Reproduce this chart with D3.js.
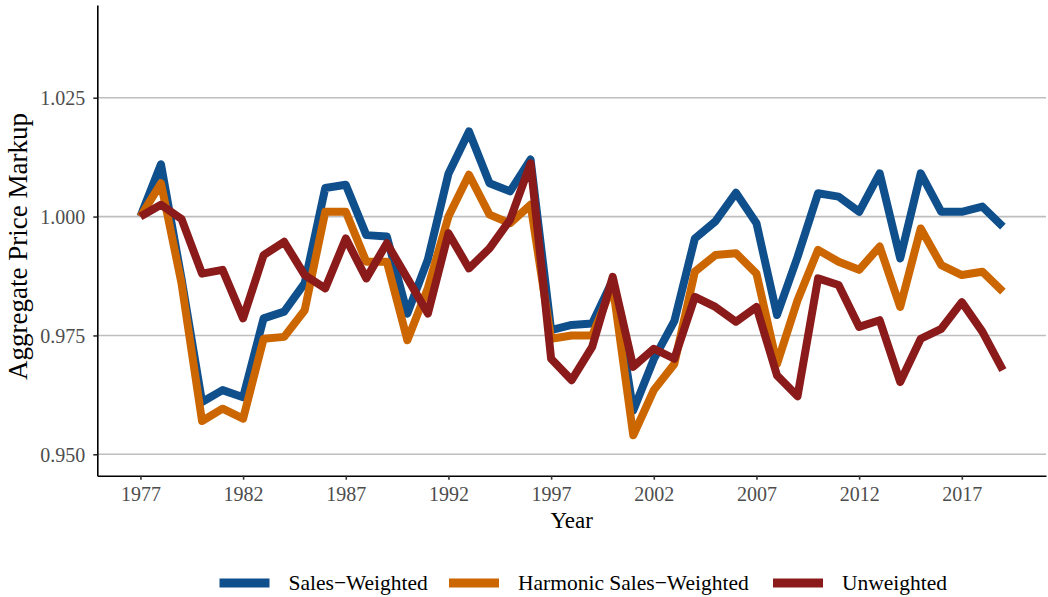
<!DOCTYPE html>
<html>
<head>
<meta charset="utf-8">
<script src="https://cdn.jsdelivr.net/npm/d3@7"></script>
<style>
  body { margin: 0; background: #fff; }
  text { font-family: "Liberation Serif", "DejaVu Serif", serif; }
</style>
</head>
<body>
<div id="chart"></div>
<script>
// data
const years = d3.range(1977, 2020);

const salesWeighted = [
  1.000, 1.011, 0.987, 0.961, 0.9635, 0.962, 0.9786, 0.980, 0.986, 1.006,
  1.0067, 0.9961, 0.9958, 0.9796, 0.991, 1.009, 1.0179, 1.007, 1.0053, 1.012,
  0.9761, 0.9772, 0.9775, 0.9866, 0.9592, 0.970, 0.978, 0.9954, 0.999, 1.005,
  0.9986, 0.9793, 0.9915, 1.0049, 1.0042, 1.001, 1.0091, 0.9912, 1.0091, 1.001,
  1.001, 1.0021, 0.9979
];

const harmonicWeighted = [
  1.000, 1.007, 0.986, 0.957, 0.9596, 0.9575, 0.9743, 0.9747, 0.9803, 1.001,
  1.001, 0.9905, 0.9905, 0.974, 0.985, 1.000, 1.0088, 1.0004, 0.9986, 1.0025,
  0.9743, 0.975, 0.975, 0.9855, 0.954, 0.9635, 0.969, 0.9884, 0.9919, 0.9923,
  0.988, 0.969, 0.9824, 0.993, 0.9905, 0.9888, 0.9937, 0.981, 0.9975, 0.9898,
  0.9877, 0.9884, 0.9842
];

const unweighted = [
  1.000, 1.0025, 0.9995, 0.988, 0.9888, 0.9786, 0.9919, 0.9947, 0.9877, 0.9849,
  0.9954, 0.987, 0.9944, 0.987, 0.9796, 0.9965, 0.9891, 0.9933, 0.9993, 1.0112,
  0.9701, 0.9656, 0.9726, 0.9873, 0.9684, 0.9722, 0.9701, 0.9831, 0.981, 0.9779,
  0.981, 0.9666, 0.9622, 0.987, 0.9856, 0.9768, 0.9782, 0.9652, 0.9743, 0.9764,
  0.982, 0.9758, 0.9677
];

const seriesNames = ["Sales\u2212Weighted", "Harmonic Sales\u2212Weighted", "Unweighted"];
const seriesColors = ["#0f4f8c", "#cc6600", "#8b1a1a"];
const xTicks = [1977, 1982, 1987, 1992, 1997, 2002, 2007, 2012, 2017];
const yTicks = [0.950, 0.975, 1.000, 1.025];

const series = [salesWeighted, harmonicWeighted, unweighted].map(function (vals, i) {
  return {
    name: seriesNames[i],
    color: seriesColors[i],
    values: vals.map(function (v, j) { return { year: years[j], value: v }; })
  };
});

let margin = { top: 5, right: 2, bottom: 121.3, left: 97.3 },
    width = 1048 - margin.left - margin.right,
    height = 597 - margin.top - margin.bottom;

let root = d3.select("#chart")
    .append("svg")
    .attr("width", 1048)
    .attr("height", 597);

let svg = root.append("g")
    .attr("transform", "translate(" + margin.left + "," + margin.top + ")");

// ggplot style 5% expansion
let x = d3.scaleLinear()
    .domain([1977 - 2.1, 2019 + 2.1])
    .range([0, width]);

let y = d3.scaleLinear()
    .domain([0.9455, 1.0445])
    .range([height, 0]);

// gridlines
svg.append("g")
    .selectAll("line")
    .data(yTicks)
    .enter()
    .append("line")
    .attr("x1", 0)
    .attr("x2", width)
    .attr("y1", function (d) { return y(d); })
    .attr("y2", function (d) { return y(d); })
    .attr("stroke", "#bebebe")
    .attr("stroke-width", 1.6);

// lines
let line = d3.line()
    .x(function (d) { return x(d.year); })
    .y(function (d) { return y(d.value); });

svg.selectAll("path.series")
    .data(series)
    .enter()
    .append("path")
    .attr("class", "series")
    .attr("fill", "none")
    .attr("stroke", function (d) { return d.color; })
    .attr("stroke-width", 8)
    .attr("stroke-linejoin", "round")
    .attr("stroke-linecap", "butt")
    .attr("d", function (d) { return line(d.values); });

// axes
let xAxis = svg.append("g")
    .attr("transform", "translate(0," + height + ")")
    .call(d3.axisBottom(x).tickValues(xTicks).tickFormat(d3.format("d")).tickSize(4).tickSizeOuter(0));

let yAxis = svg.append("g")
    .call(d3.axisLeft(y).tickValues(yTicks).tickFormat(d3.format(".3f")).tickSize(4).tickSizeOuter(0));

[xAxis, yAxis].forEach(function (ax) {
  ax.select(".domain").attr("stroke", "#000").attr("stroke-width", 1.6);
  ax.selectAll(".tick line").attr("stroke", "#333").attr("stroke-width", 1.6);
  ax.selectAll(".tick text")
    .attr("fill", "#4d4d4d")
    .style("font-size", "20px")
    .style("font-family", "'Liberation Serif', serif");
});
xAxis.selectAll(".tick text").attr("y", 25).attr("dy", 0);
yAxis.selectAll(".tick text").attr("x", -12).attr("dy", "0.34em");

// axis titles
root.append("text")
    .attr("x", margin.left + width / 2)
    .attr("y", 528.3)
    .attr("text-anchor", "middle")
    .style("font-size", "23px")
    .attr("fill", "#000")
    .text("Year");

root.append("text")
    .attr("transform", "translate(27,246.5)rotate(-90)")
    .attr("text-anchor", "middle")
    .style("font-size", "27px")
    .attr("fill", "#000")
    .text("Aggregate Price Markup");

// legend
let legendX = [219.5, 449, 773];
let legend = root.append("g")
    .selectAll("g")
    .data(series)
    .enter()
    .append("g")
    .attr("transform", function (d, i) { return "translate(" + legendX[i] + ",583)"; });

legend.append("rect")
    .attr("x", 0)
    .attr("y", -4.5)
    .attr("width", 50)
    .attr("height", 9)
    .attr("fill", function (d) { return d.color; });

legend.append("text")
    .attr("x", 69)
    .attr("y", 7)
    .style("font-size", "21.5px")
    .attr("fill", "#000")
    .text(function (d) { return d.name; });
</script>
</body>
</html>
